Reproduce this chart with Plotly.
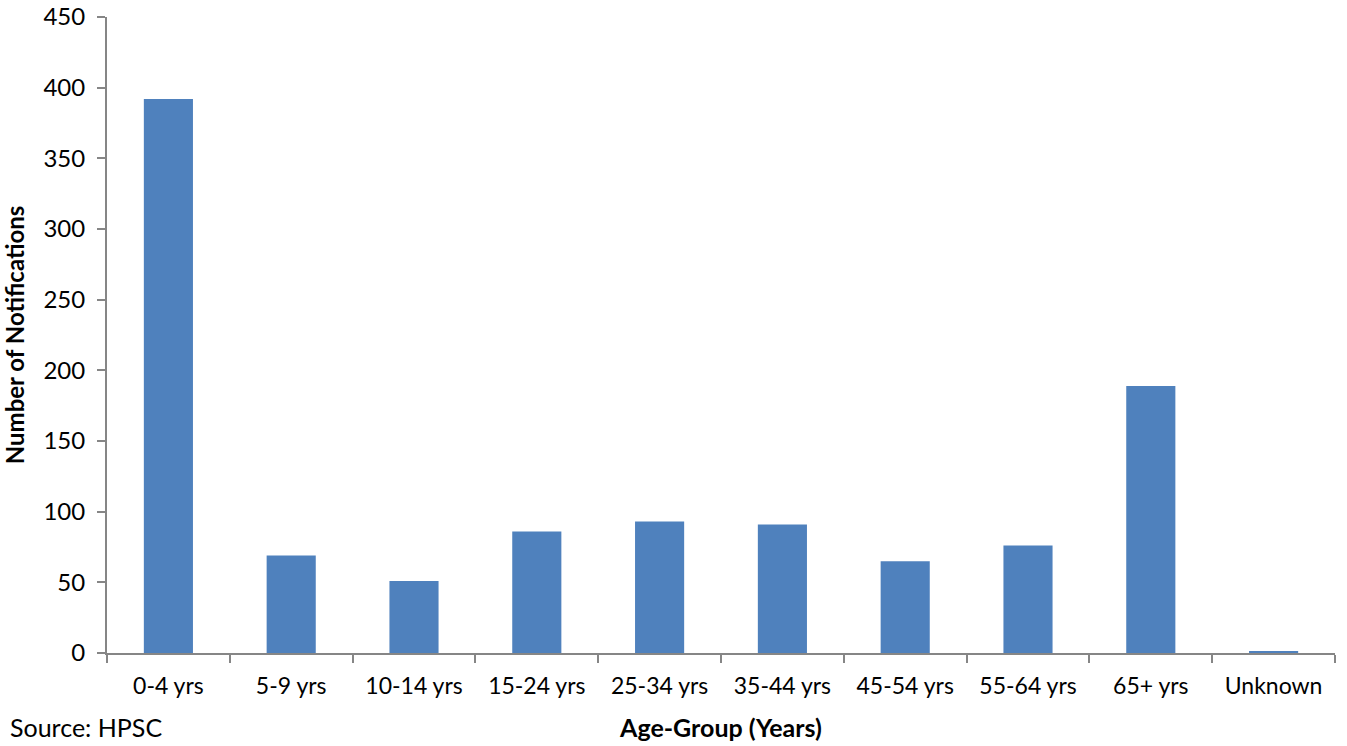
import plotly.graph_objects as go

categories = ["0-4 yrs", "5-9 yrs", "10-14 yrs", "15-24 yrs", "25-34 yrs",
              "35-44 yrs", "45-54 yrs", "55-64 yrs", "65+ yrs", "Unknown"]
notifications = [392, 69, 51, 86, 93, 91, 65, 76, 189, 1]
y_ticks = [0, 50, 100, 150, 200, 250, 300, 350, 400, 450]

font_family = "Lato, Open Sans, sans-serif"
axis_color = "#868686"

W, H = 1347, 746
L, R, T, B = 107, 12, 17, 93

fig = go.Figure(go.Bar(
    x=categories, y=notifications,
    marker=dict(color="#4F81BD", line=dict(width=0)),
    width=0.4,
))

fig.update_layout(
    width=W, height=H,
    margin=dict(l=L, r=R, t=T, b=B),
    paper_bgcolor="white", plot_bgcolor="white",
    font=dict(family=font_family, size=24, color="black"),
    showlegend=False,
)
fig.update_xaxes(
    showline=True, linecolor=axis_color, linewidth=2,
    ticks="outside", tickson="boundaries", ticklen=8, tickcolor=axis_color, tickwidth=2,
    tickfont=dict(size=23), ticklabelstandoff=11,
    title=dict(text="<b>Age-Group (Years)</b>", font=dict(size=25), standoff=22),
    showgrid=False, range=[-0.5, 9.5], automargin=False,
)
fig.update_yaxes(
    showline=True, linecolor=axis_color, linewidth=2,
    ticks="outside", ticklen=8, tickcolor=axis_color, tickwidth=2,
    tickvals=y_ticks, range=[0, 450],
    tickfont=dict(size=24), ticklabelstandoff=7, ticklabeloverflow="allow",
    title=dict(text="<b>Number of Notifications</b>", font=dict(size=24), standoff=14),
    showgrid=False, zeroline=False, automargin=False,
)
plot_w = W - L - R
plot_h = H - T - B
fig.add_annotation(
    text="Source: HPSC", xref="paper", yref="paper",
    x=-(L - 8) / plot_w, y=-(727 - (H - B)) / plot_h,
    xanchor="left", yanchor="middle", showarrow=False, font=dict(size=25),
)

fig.write_html("out.html", config={"displayModeBar": False},
               post_script="document.body.style.margin='0';")
